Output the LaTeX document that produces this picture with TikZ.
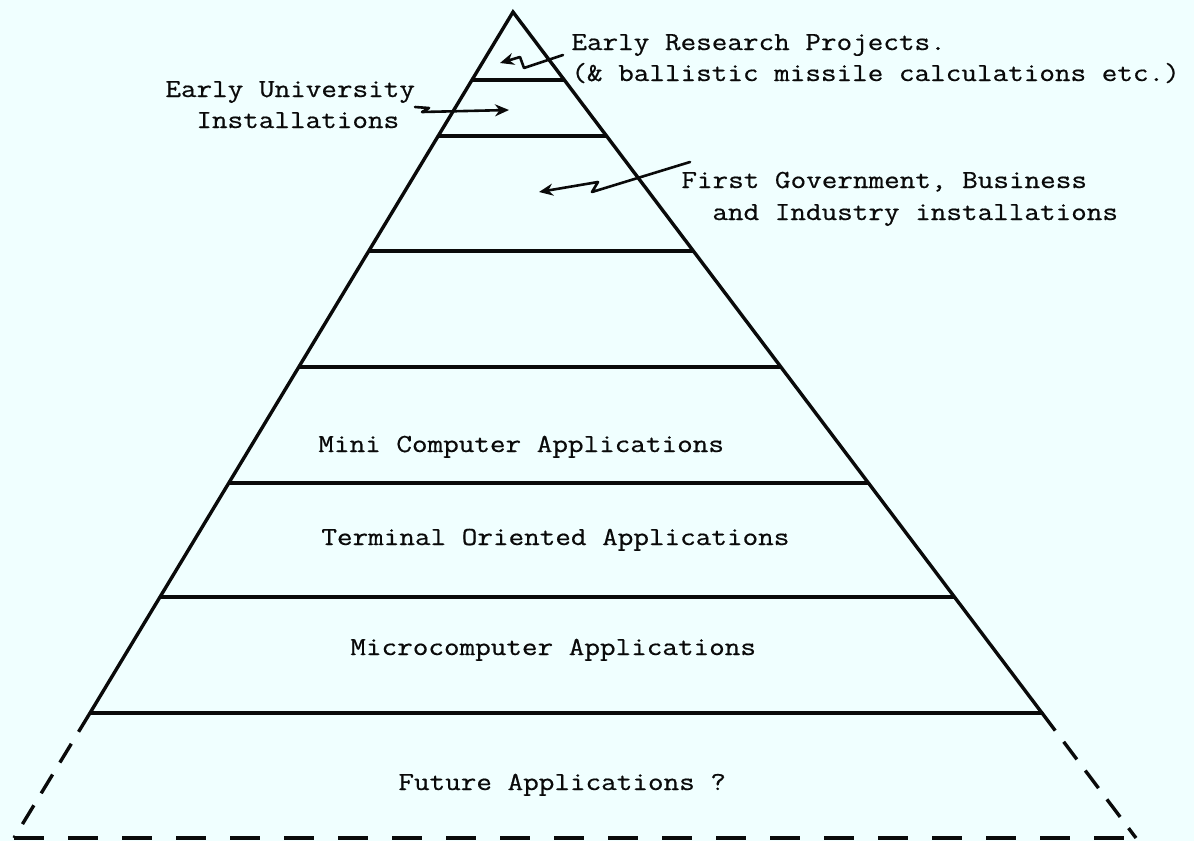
\documentclass[tikz,border=0pt]{standalone}
\usepackage{fontspec}
\setmonofont{Latin Modern Mono}[FakeStretch=1.165,FakeBold=0.6]
\usetikzlibrary{arrows.meta,calc}
\definecolor{paper}{RGB}{240,255,255}
\definecolor{ink}{RGB}{10,10,10}
\tikzset{
  edge/.style={draw=ink, line width=1.7pt, line cap=round},
  tier/.style={draw=ink, line width=1.6pt},
  sidedash/.style={draw=ink, line width=1.7pt, dash pattern=on 11pt off 7pt},
  basedash/.style={draw=ink, line width=1.7pt, dash pattern=on 15pt off 12pt},
  pointer/.style={draw=ink, line width=1.3pt, line join=round, line cap=round,
    -{Stealth[length=7pt,width=6pt]}},
  typed/.style={font=\ttfamily\fontsize{13}{15}\selectfont, text=ink,
    inner sep=0pt, anchor=base west},
}
\begin{document}
\begin{tikzpicture}[x=0.5pt,y=-0.5pt]
  % page
  \fill[paper] (0,0) rectangle (1194,841);
  \useasboundingbox (0,0) rectangle (1194,841);

  % pyramid outline
  \coordinate (apex) at (513,12);
  \coordinate (L) at (90,713);
  \coordinate (R) at (1042,713);
  \coordinate (LL) at (14,838);
  \coordinate (RR) at (1136,838);
  \draw[edge] (L) -- (apex) -- (R);
  \draw[sidedash] (L) -- (LL);
  \draw[sidedash] (R) -- (RR);
  \draw[basedash] (LL) -- (RR);

  % tiers
  \foreach \y in {80,136,251,367,483,597,713}
    \draw[tier] ($(apex)!{(\y-12)/701}!(L)$) -- ($(apex)!{(\y-12)/701}!(R)$);

  % annotations
  \node[typed] (research) at (571,50) {Early Research Projects.};
  \node[typed] (ballistic) at (571,81) {(\& ballistic missile calculations etc.)};
  \node[typed] (univ) at (165,97) {Early University};
  \node[typed] (inst) at (196,128) {Installations};
  \node[typed] (govt) at (681,188) {First Government, Business};
  \node[typed] (industry) at (712,220) {and Industry installations};

  \node[typed] (mini) at (318,452) {Mini Computer Applications};
  \node[typed] (terminal) at (321,545) {Terminal Oriented Applications};
  \node[typed] (micro) at (350,655) {Microcomputer Applications};
  \node[typed] (future) at (398,790) {Future Applications ?};

  % hand-drawn pointers
  \coordinate (p1) at (563,55);
  \coordinate (t1) at (500,63);
  \draw[pointer] (p1) -- (524,68) -- (520,57) -- (t1);
  \coordinate (p2) at (415,107);
  \coordinate (t2) at (509,110);
  \draw[pointer] (p2) -- (429,108) -- (422,112) -- (t2);
  \coordinate (p3) at (690,162);
  \coordinate (t3) at (539,192);
  \draw[pointer] (p3) -- (592,192) -- (598,182) -- (t3);
\end{tikzpicture}
\end{document}
